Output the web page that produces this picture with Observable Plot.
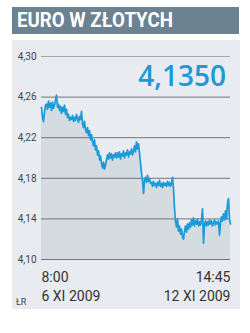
<!DOCTYPE html>
<html><head><meta charset="utf-8">
<script src="https://cdn.jsdelivr.net/npm/d3@7"></script>
<script src="https://cdn.jsdelivr.net/npm/@observablehq/plot@0.6"></script>
<style>
body{margin:0;background:#fff;width:250px;height:333px;position:relative;overflow:hidden;font-family:Roboto,sans-serif}
#hdr{position:absolute;left:12px;top:7px;width:227px;height:27px;background:#6c8290}
#hdr span{position:absolute;left:5px;top:1px;color:#fff;font:700 21px/25px Roboto,sans-serif;white-space:nowrap;transform:scaleX(0.89);transform-origin:0 0}
#panel{position:absolute;left:12px;top:40px;width:228px;height:269px;background:#e8ecf0}
#chart{position:absolute;left:0;top:0}
#big{position:absolute;right:24px;top:58px;color:#1a9ad6;font:600 28px/34px "Open Sans",sans-serif;white-space:nowrap}
#src{position:absolute;left:16px;top:297px;color:#444;font:400 9px/11px Roboto,sans-serif}
</style></head>
<body>
<div id="hdr"><span>EURO W ZŁOTYCH</span></div>
<div id="panel"></div>
<div id="chart"></div>
<div id="big"></div>
<div id="src">ŁR</div>
<script>
const title = "EURO W ZŁOTYCH";
const yTicks = [4.10, 4.14, 4.18, 4.22, 4.26, 4.30];
const xLabelStart = "8:00\n6 XI 2009";
const xLabelEnd = "14:45\n12 XI 2009";
const rates = [
  4.250, 4.240, 4.236, 4.245, 4.252,
  4.253, 4.248, 4.256, 4.250, 4.254, 4.247, 4.255, 4.249, 4.252, 4.257,
  4.262, 4.250,
  4.253, 4.247, 4.251, 4.244, 4.250, 4.246, 4.252, 4.243, 4.248,
  4.240, 4.243, 4.237, 4.240,
  4.238, 4.242, 4.236, 4.240, 4.237, 4.243, 4.239, 4.235, 4.241, 4.238, 4.246,
  4.234, 4.230, 4.236, 4.228,
  4.225, 4.230, 4.222, 4.227, 4.218, 4.223,
  4.216, 4.212, 4.218, 4.208, 4.212,
  4.203, 4.207, 4.198, 4.202,
  4.195, 4.190, 4.196, 4.189, 4.193,
  4.198, 4.203, 4.199, 4.205, 4.200, 4.204, 4.198, 4.203, 4.201, 4.205,
  4.200, 4.205, 4.201, 4.206, 4.199, 4.204, 4.202, 4.207, 4.200, 4.205, 4.203, 4.208, 4.201, 4.206, 4.204, 4.209, 4.203, 4.207,
  4.212, 4.206, 4.216, 4.209, 4.214,
  4.205, 4.195, 4.185, 4.178,
  4.165, 4.178,
  4.181, 4.176, 4.183, 4.177, 4.180, 4.175,
  4.176, 4.172, 4.177, 4.173, 4.175, 4.171, 4.176, 4.173, 4.178, 4.172, 4.175, 4.171, 4.176, 4.173, 4.175, 4.172, 4.177, 4.173, 4.176, 4.172, 4.175,
  4.181,
  4.170, 4.150, 4.138, 4.132, 4.140,
  4.128, 4.133, 4.125, 4.130, 4.122, 4.120,
  4.128, 4.133, 4.127, 4.135, 4.130,
  4.136, 4.132, 4.139, 4.134, 4.141, 4.133, 4.138, 4.135, 4.140, 4.133, 4.137, 4.134, 4.139,
  4.150, 4.116,
  4.135, 4.138, 4.133, 4.137, 4.134, 4.139, 4.135, 4.138, 4.133, 4.136, 4.139, 4.134, 4.137, 4.135, 4.138,
  4.124,
  4.136, 4.142, 4.138, 4.145, 4.139, 4.148, 4.140,
  4.155, 4.160,
  4.140, 4.135
];
const N = rates.length;
const data = rates.map((v, i) => ({i, v}));
const fmt = d => d.toFixed(2).replace(".", ",");

const chart = Plot.plot({
  width: 250, height: 333,
  marginLeft: 41, marginRight: 20, marginTop: 56, marginBottom: 74,
  style: {background: "transparent", fontFamily: "Roboto, sans-serif", fontSize: "10px", color: "#444", overflow: "visible"},
  x: {domain: [0, N - 1], axis: null},
  y: {domain: [4.10, 4.30], ticks: yTicks, tickFormat: fmt, tickSize: 0, tickPadding: 5, label: null},
  marks: [
    Plot.areaY(data, {x: "i", y1: 4.10, y2: "v", fill: "#d4dbe1"}),
    Plot.ruleY(yTicks, {stroke: d => d === 4.30 ? "#a3a7ab" : "#737678", strokeWidth: 1}),
    Plot.lineY(data, {x: "i", y: "v", stroke: "#1a9ad6", strokeWidth: 1.7}),
    Plot.text([0], {x: d => d, y: 4.10, text: () => xLabelStart, textAnchor: "start", lineAnchor: "top", lineHeight: 1.3, dy: 10, fontSize: 14, fill: "#333"}),
    Plot.text([N - 1], {x: d => d, y: 4.10, text: () => xLabelEnd, textAnchor: "end", lineAnchor: "top", lineHeight: 1.3, dy: 10, fontSize: 14, fill: "#333"})
  ]
});
document.getElementById("chart").appendChild(chart);
document.getElementById("big").textContent = rates[N - 1].toFixed(4).replace(".", ",");
</script>
</body></html>
